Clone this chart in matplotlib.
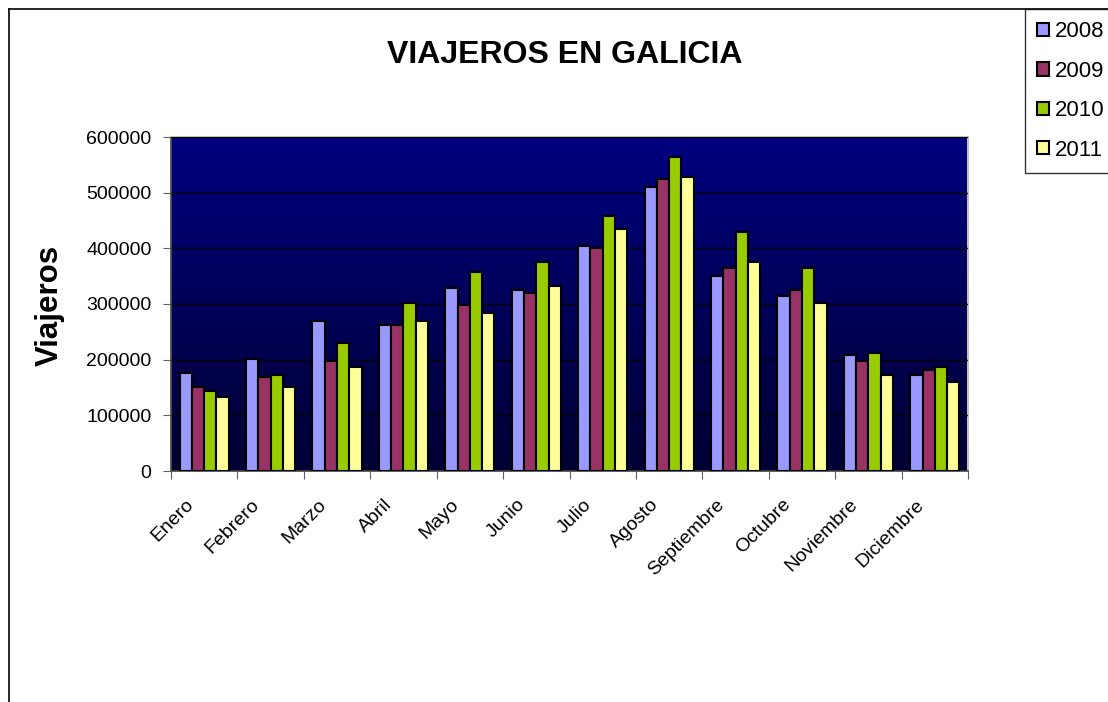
import numpy as np
import matplotlib.pyplot as plt
from matplotlib.colors import LinearSegmentedColormap
from matplotlib.lines import Line2D

plt.rcParams['font.family'] = ['Liberation Sans', 'DejaVu Sans']

# Data
meses = ["Enero", "Febrero", "Marzo", "Abril", "Mayo", "Junio", "Julio",
         "Agosto", "Septiembre", "Octubre", "Noviembre", "Diciembre"]
anios = ["2008", "2009", "2010", "2011"]
v2008 = [176000, 201000, 269000, 262000, 329000, 326000, 404000, 510000, 351000, 315000, 208000, 172000]
v2009 = [151000, 169000, 198000, 262000, 298000, 319000, 401000, 525000, 365000, 326000, 198000, 181000]
v2010 = [144000, 172000, 230000, 301000, 358000, 375000, 458000, 564000, 429000, 365000, 212000, 187000]
v2011 = [133000, 151000, 187000, 269000, 284000, 333000, 435000, 528000, 375000, 301000, 172000, 159000]
colores = ["#9999FF", "#993366", "#99CC00", "#FFFF99"]

W, H = 1108, 702
fig = plt.figure(figsize=(W / 100, H / 100), dpi=100)
ax = fig.add_axes([171 / W, 1 - 471 / H, (968 - 171) / W, (471 - 137) / H])

# gradient background of the plot area
cmap = LinearSegmentedColormap.from_list("fondo", ["#000033", "#000080"])
grad = np.linspace(0, 1, 256).reshape(-1, 1)
ax.imshow(grad, extent=[-0.5, 11.5, 0, 600000], origin="lower", aspect="auto",
          cmap=cmap, zorder=0)

x = np.arange(len(meses))
ancho = 0.185
series = [v2008, v2009, v2010, v2011]
for i, (vals, col) in enumerate(zip(series, colores)):
    ax.bar(x + (i - 1.5) * ancho, vals, width=ancho, color=col,
           edgecolor="black", linewidth=1.5, zorder=3)

ax.set_xlim(-0.5, 11.5)
ax.set_ylim(0, 600000)
ax.set_yticks(np.arange(0, 600001, 100000))
ax.set_yticklabels([str(v) for v in range(0, 600001, 100000)], fontsize=14)
ax.yaxis.grid(True, color="black", linewidth=1.0, zorder=1)
ax.set_axisbelow(False)

# category ticks between groups, month names placed under each group
ax.set_xticks(np.arange(-0.5, 12, 1))
ax.set_xticklabels([])
ax.tick_params(axis="x", length=6, direction="out", color="#606060")
ax.tick_params(axis="y", length=6, direction="out", color="#606060", pad=8)
for i, mes in enumerate(meses):
    ax.annotate(mes, xy=(x[i], 0), xycoords=("data", "axes fraction"),
                xytext=(-14, -18), textcoords="offset points",
                rotation=45, ha="right", va="top", rotation_mode="anchor",
                fontsize=14, annotation_clip=False)

for s in ["left", "bottom"]:
    ax.spines[s].set_color("#505050")
    ax.spines[s].set_linewidth(1.3)
for s in ["top", "right"]:
    ax.spines[s].set_color("#C0C0C0")
    ax.spines[s].set_linewidth(1.5)

fig.text(565 / W, 1 - 55 / H, "VIAJEROS EN GALICIA", ha="center", va="center",
         fontsize=23, fontweight="bold")
fig.text(50 / W, 1 - 305 / H, "Viajeros", ha="center", va="center",
         rotation=90, fontsize=22.5, fontweight="bold")

# outer chart border
fig.add_artist(Line2D([9 / W, 9 / W], [0, 1 - 9 / H], color="black", linewidth=1.2))
fig.add_artist(Line2D([9 / W, 1], [1 - 9 / H, 1 - 9 / H], color="black", linewidth=1.2))

# legend box
handles = [plt.Rectangle((0, 0), 1, 1, facecolor=c, edgecolor="black", linewidth=1.5)
           for c in colores]
leg = fig.legend(handles, anios, loc="upper left",
                 bbox_to_anchor=(1025 / W, 1 - 9 / H), fontsize=16,
                 frameon=True, fancybox=False, handlelength=0.55, handleheight=0.55,
                 handletextpad=0.25, labelspacing=0.83, borderpad=0.55,
                 borderaxespad=0)
leg.get_frame().set_edgecolor("black")
leg.get_frame().set_linewidth(1.0)

fig.savefig("out.png", dpi=100)
